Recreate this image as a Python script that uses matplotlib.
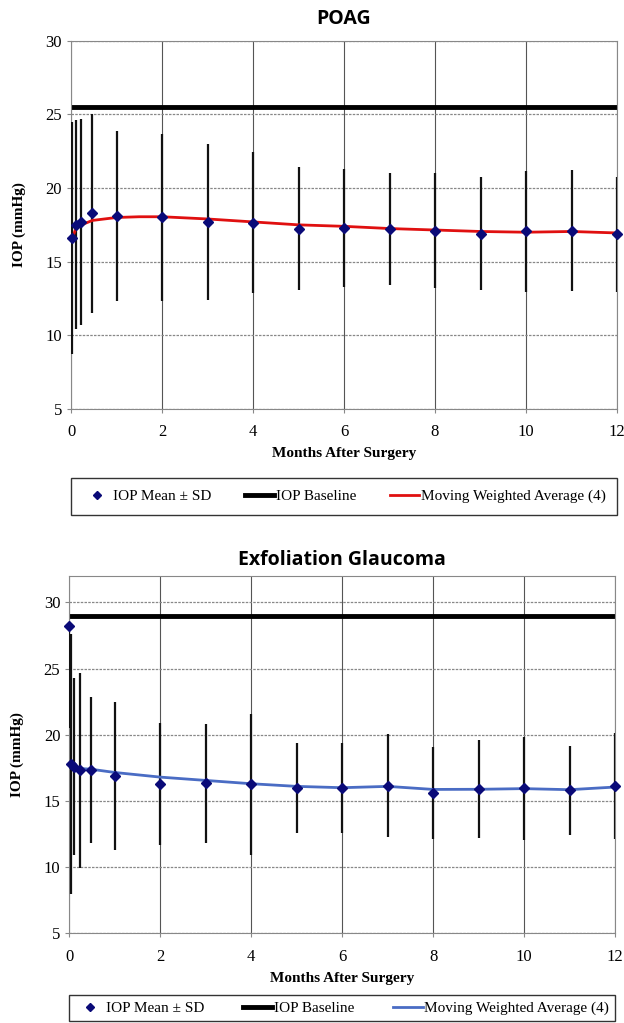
import matplotlib.pyplot as plt
from matplotlib.lines import Line2D

# POAG panel
poag_t = [0.03, 0.1, 0.23, 0.47, 1, 2, 3, 4, 5, 6, 7, 8, 9, 10, 11, 12]
poag_mean = [16.6, 17.5, 17.7, 18.3, 18.1, 18.0, 17.7, 17.65, 17.25, 17.3, 17.2, 17.1, 16.9, 17.05, 17.1, 16.85]
poag_sd = [7.9, 7.1, 7.0, 6.75, 5.75, 5.7, 5.3, 4.8, 4.2, 4.0, 3.8, 3.9, 3.85, 4.1, 4.1, 3.9]
poag_trend_t = [0.03, 0.1, 0.23, 0.47, 1, 1.5, 2, 3, 4, 5, 6, 7, 8, 9, 10, 11, 12]
poag_trend = [16.6, 17.2, 17.5, 17.8, 18.0, 18.05, 18.05, 17.9, 17.7, 17.5, 17.4, 17.25, 17.15, 17.05, 17.0, 17.05, 16.95]
poag_baseline = 25.5

# Exfoliation glaucoma panel
xfg_t = [0, 0.03, 0.1, 0.23, 0.47, 1, 2, 3, 4, 5, 6, 7, 8, 9, 10, 11, 12]
xfg_mean = [28.2, 17.8, 17.6, 17.3, 17.35, 16.9, 16.3, 16.35, 16.25, 15.95, 16.0, 16.15, 15.6, 15.9, 15.95, 15.8, 16.1]
xfg_sd_low = [7.7, 9.8, 6.7, 7.4, 5.5, 5.6, 4.6, 4.5, 5.3, 3.4, 3.4, 3.9, 3.45, 3.7, 3.9, 3.35, 4.0]
xfg_sd_high = [0, 9.8, 6.7, 7.4, 5.5, 5.6, 4.6, 4.5, 5.3, 3.4, 3.4, 3.9, 3.45, 3.7, 3.9, 3.35, 4.0]
xfg_trend_t = [0.03, 0.1, 0.23, 0.47, 1, 2, 3, 4, 5, 6, 7, 8, 9, 10, 11, 12]
xfg_trend = [17.8, 17.6, 17.45, 17.4, 17.15, 16.8, 16.55, 16.3, 16.1, 16.0, 16.1, 15.87, 15.88, 15.93, 15.85, 16.05]
xfg_baseline = 29.0

serif = 'Liberation Serif'
marker_col = '#0a0a78'


def panel(ax, t, mean, err, trend_t, trend, base, line_col, title, ymax, title_pad):
    ax.errorbar(t, mean, yerr=err, fmt='none', ecolor='#111111', elinewidth=1.6, capsize=0, zorder=3)
    ax.axhline(base, color='black', lw=3.5, zorder=2)
    ax.plot(trend_t, trend, color=line_col, lw=2.0, zorder=4)
    ax.plot(t, mean, 'D', color=marker_col, ms=5, zorder=5, clip_on=False)
    ax.set_xlim(0, 12)
    ax.set_ylim(5, ymax)
    ax.set_xticks(range(0, 13, 2))
    ax.set_yticks(range(5, 31, 5))
    ax.grid(True, axis='y', color='#888888', lw=0.9, ls=(0, (2, 1)))
    ax.grid(True, axis='x', color='#555555', lw=0.8)
    ax.set_axisbelow(True)
    for s in ax.spines.values():
        s.set_color('#888888')
    ax.tick_params(colors='#888888', length=3, labelcolor='black', labelsize=12)
    ax.tick_params(axis='x', pad=8)
    for lab in ax.get_xticklabels() + ax.get_yticklabels():
        lab.set_fontfamily(serif)
    ax.set_xlabel('Months After Surgery', fontfamily=serif, fontweight='bold', fontsize=11, labelpad=5)
    ax.set_ylabel('IOP (mmHg)', fontfamily=serif, fontweight='bold', fontsize=11, labelpad=14)
    ax.set_title(title, fontfamily='Open Sans', fontweight='bold', fontsize=14, pad=title_pad)

    handles = [
        Line2D([], [], marker='D', color=marker_col, ls='none', ms=4),
        Line2D([], [], color='black', lw=3.5),
        Line2D([], [], color=line_col, lw=2),
    ]
    labels = ['IOP Mean ± SD', 'IOP Baseline', 'Moving Weighted Average (4)']
    return handles, labels


fig = plt.figure(figsize=(6.24, 10.23), dpi=100)

ax1 = fig.add_axes([0.1138, 0.6002, 0.875, 0.36])
h, l = panel(ax1, poag_t, poag_mean, poag_sd, poag_trend_t, poag_trend, poag_baseline,
             '#e01010', 'POAG', 30, 12)
leg = ax1.legend(h, l, loc='upper left', bbox_to_anchor=(0, -0.2875, 1, 0.1), mode='expand', ncol=3,
                 prop={'family': serif, 'size': 11}, frameon=True, fancybox=False, borderaxespad=0,
                 edgecolor='black', handlelength=1.9, handletextpad=0.1, borderpad=0.75)
leg.get_frame().set_linewidth(1.0)

ax2 = fig.add_axes([0.1111, 0.0877, 0.8745, 0.3493])
h, l = panel(ax2, xfg_t, xfg_mean, [xfg_sd_low, xfg_sd_high], xfg_trend_t, xfg_trend, xfg_baseline,
             '#4a6cc4', 'Exfoliation Glaucoma', 32, 8)
leg = ax2.legend(h, l, loc='upper left', bbox_to_anchor=(0, -0.273, 1, 0.1), mode='expand', ncol=3,
                 prop={'family': serif, 'size': 11}, frameon=True, fancybox=False, borderaxespad=0,
                 edgecolor='black', handlelength=1.9, handletextpad=0.1, borderpad=0.4)
leg.get_frame().set_linewidth(1.0)

fig.savefig('out.png', dpi=100)
